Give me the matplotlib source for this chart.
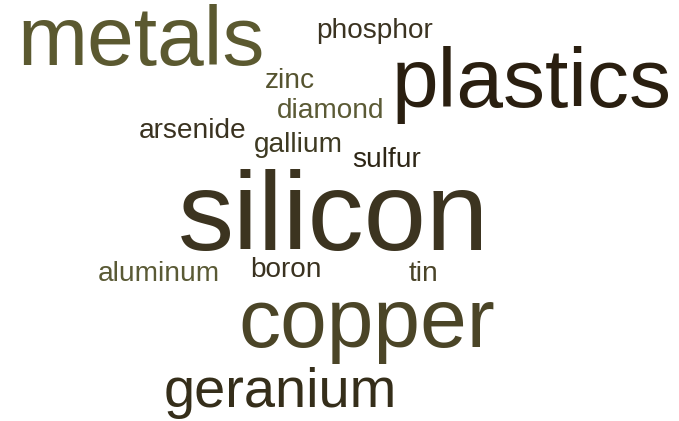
import matplotlib
matplotlib.use("Agg")
import matplotlib.pyplot as plt

# Data: words and their weights (relative frequency)
words = ["silicon", "plastics", "metals", "copper", "geranium",
         "phosphor", "zinc", "diamond", "arsenide", "gallium",
         "sulfur", "aluminum", "boron", "tin"]
weights = [4, 3, 3, 3, 2, 1, 1, 1, 1, 1, 1, 1, 1, 1]

# Layout (left x, baseline y in pixels) and colours
pos_x = [178, 392, 17, 238, 164, 316, 265, 277, 139, 254, 352, 98, 250, 409]
pos_y = [250, 107, 65, 347, 407, 38, 88, 118, 138, 152, 167, 281, 277, 281]
colors = ["#3c3420", "#2a1f10", "#5b5930", "#4b4527", "#352e1a",
          "#3b3321", "#55532f", "#5b5a35", "#3a3220", "#3e3a22",
          "#2e2616", "#5a5a35", "#3a3220", "#4a4428"]

DPI = 100
W, H = 679, 421
BASE_PX = 28

fig = plt.figure(figsize=(W / DPI, H / DPI), dpi=DPI)
ax = fig.add_axes([0, 0, 1, 1])
ax.set_xlim(0, W)
ax.set_ylim(H, 0)
ax.axis("off")

for w, wt, x, y, c in zip(words, weights, pos_x, pos_y, colors):
    ax.text(x, y, w, fontsize=BASE_PX * wt * 72 / DPI,
            family="Liberation Sans", color=c, ha="left", va="baseline")

fig.savefig("out.png", dpi=DPI, facecolor="white")
